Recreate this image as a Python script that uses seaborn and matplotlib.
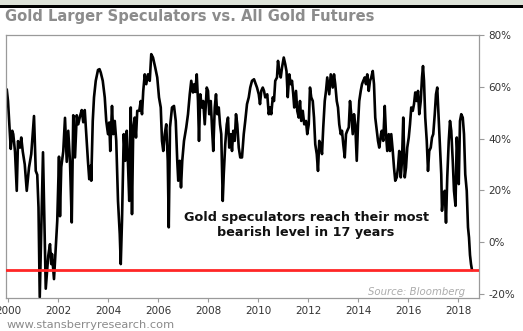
import matplotlib
matplotlib.use("Agg")
import matplotlib.pyplot as plt
from matplotlib.patches import Rectangle
import seaborn as sns
import pandas as pd

# Net long positioning of large gold speculators, as a share of all gold futures (%)
years = [
    1999.95, 2000.00, 2000.04, 2000.08, 2000.11, 2000.17, 2000.21, 2000.28, 2000.35, 2000.40,
    2000.48, 2000.53, 2000.59, 2000.67, 2000.75, 2000.84, 2000.93, 2001.04, 2001.11, 2001.17,
    2001.22, 2001.27, 2001.40, 2001.51, 2001.61, 2001.68, 2001.73, 2001.76, 2001.84, 2001.97,
    2002.04, 2002.08, 2002.13, 2002.21, 2002.28, 2002.35, 2002.41, 2002.48, 2002.55, 2002.61,
    2002.68, 2002.75, 2002.81, 2002.88, 2002.95, 2003.01, 2003.07, 2003.13, 2003.20, 2003.25,
    2003.31, 2003.33, 2003.39, 2003.44, 2003.51, 2003.60, 2003.66, 2003.71, 2003.79, 2003.87,
    2003.93, 2004.00, 2004.05, 2004.09, 2004.16, 2004.21, 2004.27, 2004.33, 2004.40, 2004.47,
    2004.51, 2004.56, 2004.63, 2004.69, 2004.75, 2004.80, 2004.85, 2004.91, 2004.96, 2005.01,
    2005.07, 2005.12, 2005.17, 2005.25, 2005.31, 2005.36, 2005.41, 2005.47, 2005.53, 2005.60,
    2005.67, 2005.73, 2005.80, 2005.89, 2005.97, 2006.04, 2006.11, 2006.16, 2006.21, 2006.27,
    2006.33, 2006.39, 2006.43, 2006.48, 2006.56, 2006.64, 2006.71, 2006.77, 2006.81, 2006.87,
    2006.92, 2006.97, 2007.04, 2007.13, 2007.20, 2007.27, 2007.33, 2007.40, 2007.45, 2007.49,
    2007.55, 2007.60, 2007.64, 2007.69, 2007.76, 2007.81, 2007.87, 2007.95, 2008.00, 2008.05,
    2008.11, 2008.16, 2008.21, 2008.27, 2008.32, 2008.37, 2008.43, 2008.48, 2008.53, 2008.59,
    2008.63, 2008.69, 2008.75, 2008.80, 2008.85, 2008.91, 2008.96, 2009.01, 2009.07, 2009.12,
    2009.17, 2009.23, 2009.29, 2009.36, 2009.43, 2009.49, 2009.56, 2009.63, 2009.69, 2009.76,
    2009.84, 2009.89, 2009.96, 2010.03, 2010.08, 2010.13, 2010.19, 2010.24, 2010.29, 2010.37,
    2010.43, 2010.48, 2010.53, 2010.59, 2010.64, 2010.69, 2010.76, 2010.80, 2010.85, 2010.91,
    2010.96, 2011.03, 2011.09, 2011.14, 2011.19, 2011.25, 2011.31, 2011.36, 2011.41, 2011.45,
    2011.52, 2011.57, 2011.63, 2011.68, 2011.73, 2011.79, 2011.85, 2011.92, 2011.97, 2012.03,
    2012.08, 2012.13, 2012.19, 2012.24, 2012.29, 2012.35, 2012.40, 2012.45, 2012.51, 2012.56,
    2012.61, 2012.67, 2012.72, 2012.77, 2012.85, 2012.91, 2012.99, 2013.04, 2013.09, 2013.15,
    2013.20, 2013.25, 2013.31, 2013.36, 2013.41, 2013.47, 2013.52, 2013.57, 2013.63, 2013.68,
    2013.73, 2013.79, 2013.84, 2013.89, 2013.95, 2014.00, 2014.05, 2014.11, 2014.16, 2014.21,
    2014.27, 2014.32, 2014.37, 2014.43, 2014.48, 2014.53, 2014.59, 2014.64, 2014.69, 2014.75,
    2014.80, 2014.85, 2014.92, 2014.95, 2015.01, 2015.07, 2015.12, 2015.17, 2015.23, 2015.28,
    2015.33, 2015.39, 2015.44, 2015.49, 2015.55, 2015.60, 2015.65, 2015.71, 2015.76, 2015.81,
    2015.87, 2015.92, 2015.97, 2016.03, 2016.08, 2016.13, 2016.19, 2016.24, 2016.29, 2016.35,
    2016.40, 2016.45, 2016.51, 2016.56, 2016.60, 2016.64, 2016.69, 2016.75, 2016.80, 2016.85,
    2016.91, 2016.96, 2017.01, 2017.07, 2017.12, 2017.17, 2017.23, 2017.28, 2017.33, 2017.36,
    2017.41, 2017.47, 2017.52, 2017.57, 2017.63, 2017.68, 2017.73, 2017.79, 2017.84, 2017.90,
    2017.95, 2018.00, 2018.03, 2018.08, 2018.13, 2018.19, 2018.24, 2018.29, 2018.35, 2018.40,
    2018.44, 2018.48, 2018.52, 2018.56,
]
net_long_pct = [
    59.0, 54.5, 48.0, 41.7, 36.0, 43.0, 41.7, 35.0, 19.8, 39.0,
    36.5, 40.4, 35.0, 30.0, 19.8, 28.8, 34.0, 48.7, 27.5, 26.0,
    13.4, -21.3, 34.7, -18.0, -5.3, -0.8, -8.5, -4.6, -14.3, 8.2,
    33.0, 10.0, 29.0, 35.0, 48.0, 31.0, 43.0, 31.0, 7.6, 49.0,
    32.7, 49.0, 45.5, 48.6, 51.0, 46.3, 51.0, 41.7, 31.0, 24.3,
    29.5, 23.7, 46.8, 55.9, 62.3, 66.5, 66.8, 65.5, 62.3, 55.9,
    46.8, 41.7, 46.2, 35.2, 52.6, 41.7, 46.8, 39.1, 15.9, 3.1,
    -8.5, 8.2, 41.7, 31.4, 43.0, 30.1, 15.9, 52.0, 10.8, 44.3,
    48.1, 40.4, 50.7, 50.7, 54.5, 49.4, 58.4, 64.8, 61.0, 64.8,
    62.3, 72.6, 71.3, 67.4, 63.6, 55.9, 52.0, 39.1, 35.2, 41.7,
    45.5, 31.4, 5.7, 44.3, 52.0, 52.6, 46.8, 31.4, 23.7, 31.4,
    21.1, 31.4, 39.1, 44.3, 49.4, 57.1, 62.3, 57.8, 61.0, 58.0,
    64.8, 54.5, 39.1, 57.1, 52.0, 54.5, 45.5, 59.7, 58.4, 49.4,
    54.5, 44.3, 35.2, 52.0, 57.1, 49.4, 52.0, 45.5, 41.7, 15.9,
    26.2, 37.8, 45.5, 48.1, 36.5, 41.7, 35.2, 43.0, 39.1, 49.4,
    45.5, 36.5, 32.7, 32.7, 41.7, 46.8, 53.3, 55.9, 59.7, 62.3,
    62.9, 61.6, 59.7, 57.1, 53.3, 58.4, 59.7, 58.4, 55.9, 57.1,
    49.4, 52.0, 49.4, 55.9, 54.5, 62.3, 63.6, 70.0, 66.1, 63.6,
    67.4, 71.3, 68.7, 66.0, 56.0, 64.8, 61.0, 62.3, 57.1, 52.0,
    58.4, 50.7, 48.1, 54.5, 46.8, 50.7, 45.5, 46.8, 41.7, 45.5,
    59.7, 55.9, 54.5, 48.1, 37.8, 34.0, 27.5, 39.1, 37.8, 34.0,
    44.3, 54.5, 58.4, 63.6, 57.1, 64.8, 59.7, 64.8, 61.0, 54.5,
    52.0, 45.5, 41.7, 43.0, 37.8, 32.7, 41.7, 43.0, 44.3, 54.5,
    49.4, 41.7, 49.4, 45.5, 31.4, 45.5, 54.5, 58.4, 61.0, 62.3,
    63.6, 61.0, 64.8, 58.4, 62.3, 63.6, 66.1, 61.0, 48.1, 43.0,
    39.1, 36.5, 41.7, 43.0, 39.1, 52.6, 41.7, 35.2, 41.7, 35.2,
    41.7, 35.2, 28.8, 23.7, 25.0, 28.8, 35.2, 25.0, 31.4, 48.1,
    25.0, 28.8, 36.5, 40.4, 45.5, 52.0, 50.7, 53.3, 57.8, 54.5,
    58.4, 49.4, 54.5, 63.6, 68.0, 62.3, 48.1, 39.1, 27.5, 35.2,
    36.5, 40.4, 41.7, 49.4, 57.1, 59.7, 46.8, 35.2, 26.2, 12.1,
    18.5, 19.8, 7.5, 25.0, 39.1, 46.8, 43.0, 31.4, 19.8, 14.0,
    40.4, 31.4, 22.4, 46.8, 49.4, 48.1, 41.7, 26.2, 19.8, 5.7,
    1.8, -5.0, -8.5, -10.8,
]
year_ticks = [2000, 2002, 2004, 2006, 2008, 2010, 2012, 2014, 2016, 2018]
pct_ticks = [-20, 0, 20, 40, 60, 80]

df = pd.DataFrame({"year": years, "pct": net_long_pct})
# Reference level: latest reading, the lowest since 2001
bearish_level = net_long_pct[-1]

sns.set_style("white")
plt.rcParams["font.family"] = ["DejaVu Sans"]

W, H = 523, 331
fig = plt.figure(figsize=(W / 100, H / 100), dpi=100)
fig.patch.set_facecolor("white")

ax = fig.add_axes([6 / W, 1 - 298 / H, (479 - 6) / W, (298 - 35) / H])
sns.lineplot(data=df, x="year", y="pct", ax=ax, color="black", lw=1.9,
             estimator=None, sort=False, zorder=2)
ax.axhline(bearish_level, color="#ff2626", lw=2.0, zorder=3)

ax.set_xlim(1999.92, 2018.84)
ax.set_ylim(-21.6, 80)
ax.set_xlabel("")
ax.set_ylabel("")

ax.set_xticks(year_ticks)
ax.set_xticklabels([str(y) for y in year_ticks])
ax.yaxis.tick_right()
ax.set_yticks(pct_ticks)
ax.set_yticklabels([f"{v}%" for v in pct_ticks])

for s in ax.spines.values():
    s.set_visible(True)
    s.set_color("#9a9a9a")
    s.set_linewidth(0.9)
ax.tick_params(axis="x", direction="out", length=3, width=0.8, color="#9a9a9a",
               labelsize=7.5, labelcolor="#333333", pad=2.5, bottom=True)
ax.tick_params(axis="y", direction="out", length=3.5, width=0.8, color="#9a9a9a",
               labelsize=7.5, labelcolor="#333333", pad=3, right=True, left=False)
ax.grid(False)

# Header strip
fig.add_artist(Rectangle((0, 1 - 5 / H), 1, 5 / H, transform=fig.transFigure,
                         facecolor="#dde2d8", edgecolor="none"))
fig.add_artist(Rectangle((0, 1 - 7.5 / H), 1, 2.5 / H, transform=fig.transFigure,
                         facecolor="black", edgecolor="none"))

fig.text(5 / W, 1 - 17 / H, "Gold Larger Speculators vs. All Gold Futures",
         fontsize=10.6, fontweight="bold", color="#8c8c8c", ha="left", va="center")

fig.text(306 / W, 1 - 225 / H,
         "Gold speculators reach their most\nbearish level in 17 years",
         fontsize=9.2, fontweight="bold", color="#111111", ha="center", va="center",
         multialignment="center", linespacing=1.15)

fig.text(416 / W, 1 - 292 / H, "Source: Bloomberg", fontsize=7.3, style="italic",
         color="#ababab", ha="center", va="center")

fig.text(7 / W, 1 - 325 / H, "www.stansberryresearch.com", fontsize=8.2,
         color="#8a8a8a", ha="left", va="center")

fig.savefig("out.png", dpi=100, facecolor="white")
